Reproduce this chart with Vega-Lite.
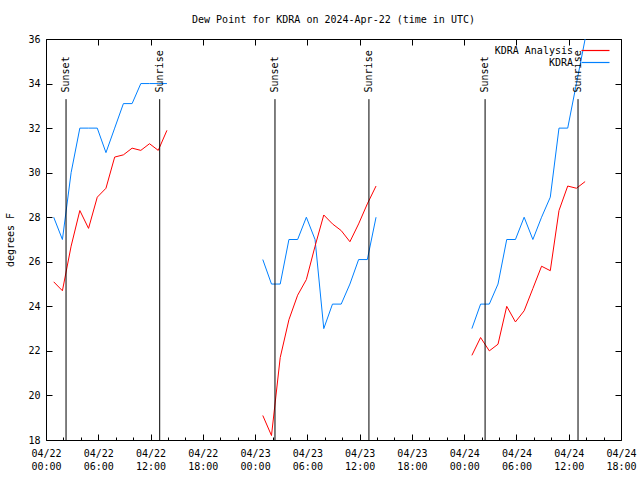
{
  "$schema": "https://vega.github.io/schema/vega-lite/v6.json",
  "width": 575,
  "height": 401,
  "autosize": {"type": "none"},
  "padding": {"left": 46, "top": 39, "right": 19, "bottom": 40},
  "background": "white",
  "config": {
    "font": "DejaVu Sans Mono",
    "view": {"stroke": "black", "strokeWidth": 1},
    "axis": {
      "domain": false,
      "grid": false,
      "tickColor": "black",
      "tickWidth": 1,
      "labelFont": "DejaVu Sans Mono",
      "labelFontSize": 10,
      "labelColor": "black",
      "titleFont": "DejaVu Sans Mono",
      "titleFontSize": 10,
      "titleFontWeight": "normal",
      "titleColor": "black"
    }
  },
  "title": {
    "text": "Dew Point for KDRA on 2024-Apr-22 (time in UTC)",
    "font": "DejaVu Sans Mono",
    "fontSize": 10,
    "fontWeight": "normal",
    "color": "black",
    "anchor": "middle",
    "offset": 9
  },
  "datasets": {
    "obs": [
      {"time": "2024-04-22T00:53:00Z", "dewpoint": 28.0, "series": "KDRA", "day": 1},
      {"time": "2024-04-22T01:53:00Z", "dewpoint": 27.0, "series": "KDRA", "day": 1},
      {"time": "2024-04-22T02:53:00Z", "dewpoint": 30.0, "series": "KDRA", "day": 1},
      {"time": "2024-04-22T03:53:00Z", "dewpoint": 32.0, "series": "KDRA", "day": 1},
      {"time": "2024-04-22T04:53:00Z", "dewpoint": 32.0, "series": "KDRA", "day": 1},
      {"time": "2024-04-22T05:53:00Z", "dewpoint": 32.0, "series": "KDRA", "day": 1},
      {"time": "2024-04-22T06:53:00Z", "dewpoint": 30.9, "series": "KDRA", "day": 1},
      {"time": "2024-04-22T07:53:00Z", "dewpoint": 32.0, "series": "KDRA", "day": 1},
      {"time": "2024-04-22T08:53:00Z", "dewpoint": 33.1, "series": "KDRA", "day": 1},
      {"time": "2024-04-22T09:53:00Z", "dewpoint": 33.1, "series": "KDRA", "day": 1},
      {"time": "2024-04-22T10:53:00Z", "dewpoint": 34.0, "series": "KDRA", "day": 1},
      {"time": "2024-04-22T11:53:00Z", "dewpoint": 34.0, "series": "KDRA", "day": 1},
      {"time": "2024-04-22T12:53:00Z", "dewpoint": 34.0, "series": "KDRA", "day": 1},
      {"time": "2024-04-22T13:53:00Z", "dewpoint": 34.0, "series": "KDRA", "day": 1},
      {"time": "2024-04-22T00:53:00Z", "dewpoint": 25.1, "series": "KDRA Analysis", "day": 1},
      {"time": "2024-04-22T01:53:00Z", "dewpoint": 24.7, "series": "KDRA Analysis", "day": 1},
      {"time": "2024-04-22T02:53:00Z", "dewpoint": 26.7, "series": "KDRA Analysis", "day": 1},
      {"time": "2024-04-22T03:53:00Z", "dewpoint": 28.3, "series": "KDRA Analysis", "day": 1},
      {"time": "2024-04-22T04:53:00Z", "dewpoint": 27.5, "series": "KDRA Analysis", "day": 1},
      {"time": "2024-04-22T05:53:00Z", "dewpoint": 28.9, "series": "KDRA Analysis", "day": 1},
      {"time": "2024-04-22T06:53:00Z", "dewpoint": 29.3, "series": "KDRA Analysis", "day": 1},
      {"time": "2024-04-22T07:53:00Z", "dewpoint": 30.7, "series": "KDRA Analysis", "day": 1},
      {"time": "2024-04-22T08:53:00Z", "dewpoint": 30.8, "series": "KDRA Analysis", "day": 1},
      {"time": "2024-04-22T09:53:00Z", "dewpoint": 31.1, "series": "KDRA Analysis", "day": 1},
      {"time": "2024-04-22T10:53:00Z", "dewpoint": 31.0, "series": "KDRA Analysis", "day": 1},
      {"time": "2024-04-22T11:53:00Z", "dewpoint": 31.3, "series": "KDRA Analysis", "day": 1},
      {"time": "2024-04-22T12:53:00Z", "dewpoint": 31.0, "series": "KDRA Analysis", "day": 1},
      {"time": "2024-04-22T13:53:00Z", "dewpoint": 31.9, "series": "KDRA Analysis", "day": 1},
      {"time": "2024-04-23T00:53:00Z", "dewpoint": 26.1, "series": "KDRA", "day": 2},
      {"time": "2024-04-23T01:53:00Z", "dewpoint": 25.0, "series": "KDRA", "day": 2},
      {"time": "2024-04-23T02:53:00Z", "dewpoint": 25.0, "series": "KDRA", "day": 2},
      {"time": "2024-04-23T03:53:00Z", "dewpoint": 27.0, "series": "KDRA", "day": 2},
      {"time": "2024-04-23T04:53:00Z", "dewpoint": 27.0, "series": "KDRA", "day": 2},
      {"time": "2024-04-23T05:53:00Z", "dewpoint": 28.0, "series": "KDRA", "day": 2},
      {"time": "2024-04-23T06:53:00Z", "dewpoint": 27.0, "series": "KDRA", "day": 2},
      {"time": "2024-04-23T07:53:00Z", "dewpoint": 23.0, "series": "KDRA", "day": 2},
      {"time": "2024-04-23T08:53:00Z", "dewpoint": 24.1, "series": "KDRA", "day": 2},
      {"time": "2024-04-23T09:53:00Z", "dewpoint": 24.1, "series": "KDRA", "day": 2},
      {"time": "2024-04-23T10:53:00Z", "dewpoint": 25.0, "series": "KDRA", "day": 2},
      {"time": "2024-04-23T11:53:00Z", "dewpoint": 26.1, "series": "KDRA", "day": 2},
      {"time": "2024-04-23T12:53:00Z", "dewpoint": 26.1, "series": "KDRA", "day": 2},
      {"time": "2024-04-23T13:53:00Z", "dewpoint": 28.0, "series": "KDRA", "day": 2},
      {"time": "2024-04-23T00:53:00Z", "dewpoint": 19.1, "series": "KDRA Analysis", "day": 2},
      {"time": "2024-04-23T01:53:00Z", "dewpoint": 18.2, "series": "KDRA Analysis", "day": 2},
      {"time": "2024-04-23T02:53:00Z", "dewpoint": 21.7, "series": "KDRA Analysis", "day": 2},
      {"time": "2024-04-23T03:53:00Z", "dewpoint": 23.4, "series": "KDRA Analysis", "day": 2},
      {"time": "2024-04-23T04:53:00Z", "dewpoint": 24.5, "series": "KDRA Analysis", "day": 2},
      {"time": "2024-04-23T05:53:00Z", "dewpoint": 25.2, "series": "KDRA Analysis", "day": 2},
      {"time": "2024-04-23T06:53:00Z", "dewpoint": 26.7, "series": "KDRA Analysis", "day": 2},
      {"time": "2024-04-23T07:53:00Z", "dewpoint": 28.1, "series": "KDRA Analysis", "day": 2},
      {"time": "2024-04-23T08:53:00Z", "dewpoint": 27.7, "series": "KDRA Analysis", "day": 2},
      {"time": "2024-04-23T09:53:00Z", "dewpoint": 27.4, "series": "KDRA Analysis", "day": 2},
      {"time": "2024-04-23T10:53:00Z", "dewpoint": 26.9, "series": "KDRA Analysis", "day": 2},
      {"time": "2024-04-23T11:53:00Z", "dewpoint": 27.7, "series": "KDRA Analysis", "day": 2},
      {"time": "2024-04-23T12:53:00Z", "dewpoint": 28.6, "series": "KDRA Analysis", "day": 2},
      {"time": "2024-04-23T13:53:00Z", "dewpoint": 29.4, "series": "KDRA Analysis", "day": 2},
      {"time": "2024-04-24T00:53:00Z", "dewpoint": 23.0, "series": "KDRA", "day": 3},
      {"time": "2024-04-24T01:53:00Z", "dewpoint": 24.1, "series": "KDRA", "day": 3},
      {"time": "2024-04-24T02:53:00Z", "dewpoint": 24.1, "series": "KDRA", "day": 3},
      {"time": "2024-04-24T03:53:00Z", "dewpoint": 25.0, "series": "KDRA", "day": 3},
      {"time": "2024-04-24T04:53:00Z", "dewpoint": 27.0, "series": "KDRA", "day": 3},
      {"time": "2024-04-24T05:53:00Z", "dewpoint": 27.0, "series": "KDRA", "day": 3},
      {"time": "2024-04-24T06:53:00Z", "dewpoint": 28.0, "series": "KDRA", "day": 3},
      {"time": "2024-04-24T07:53:00Z", "dewpoint": 27.0, "series": "KDRA", "day": 3},
      {"time": "2024-04-24T08:53:00Z", "dewpoint": 28.0, "series": "KDRA", "day": 3},
      {"time": "2024-04-24T09:53:00Z", "dewpoint": 28.9, "series": "KDRA", "day": 3},
      {"time": "2024-04-24T10:53:00Z", "dewpoint": 32.0, "series": "KDRA", "day": 3},
      {"time": "2024-04-24T11:53:00Z", "dewpoint": 32.0, "series": "KDRA", "day": 3},
      {"time": "2024-04-24T12:53:00Z", "dewpoint": 34.0, "series": "KDRA", "day": 3},
      {"time": "2024-04-24T13:53:00Z", "dewpoint": 36.0, "series": "KDRA", "day": 3},
      {"time": "2024-04-24T00:53:00Z", "dewpoint": 21.8, "series": "KDRA Analysis", "day": 3},
      {"time": "2024-04-24T01:53:00Z", "dewpoint": 22.6, "series": "KDRA Analysis", "day": 3},
      {"time": "2024-04-24T02:53:00Z", "dewpoint": 22.0, "series": "KDRA Analysis", "day": 3},
      {"time": "2024-04-24T03:53:00Z", "dewpoint": 22.3, "series": "KDRA Analysis", "day": 3},
      {"time": "2024-04-24T04:53:00Z", "dewpoint": 24.0, "series": "KDRA Analysis", "day": 3},
      {"time": "2024-04-24T05:53:00Z", "dewpoint": 23.3, "series": "KDRA Analysis", "day": 3},
      {"time": "2024-04-24T06:53:00Z", "dewpoint": 23.8, "series": "KDRA Analysis", "day": 3},
      {"time": "2024-04-24T07:53:00Z", "dewpoint": 24.8, "series": "KDRA Analysis", "day": 3},
      {"time": "2024-04-24T08:53:00Z", "dewpoint": 25.8, "series": "KDRA Analysis", "day": 3},
      {"time": "2024-04-24T09:53:00Z", "dewpoint": 25.6, "series": "KDRA Analysis", "day": 3},
      {"time": "2024-04-24T10:53:00Z", "dewpoint": 28.3, "series": "KDRA Analysis", "day": 3},
      {"time": "2024-04-24T11:53:00Z", "dewpoint": 29.4, "series": "KDRA Analysis", "day": 3},
      {"time": "2024-04-24T12:53:00Z", "dewpoint": 29.3, "series": "KDRA Analysis", "day": 3},
      {"time": "2024-04-24T13:53:00Z", "dewpoint": 29.6, "series": "KDRA Analysis", "day": 3}
    ],
    "sun": [
      {"time": "2024-04-22T02:18:00Z", "event": "Sunset"},
      {"time": "2024-04-22T13:03:00Z", "event": "Sunrise"},
      {"time": "2024-04-23T02:17:00Z", "event": "Sunset"},
      {"time": "2024-04-23T13:04:00Z", "event": "Sunrise"},
      {"time": "2024-04-24T02:24:00Z", "event": "Sunset"},
      {"time": "2024-04-24T13:04:00Z", "event": "Sunrise"}
    ]
  },
  "resolve": {"axis": {"x": "independent", "y": "independent"}},
  "layer": [
    {
      "data": {"name": "obs"},
      "mark": {"type": "line", "strokeWidth": 1, "clip": true},
      "encoding": {
        "x": {
          "field": "time",
          "type": "temporal",
          "scale": {"type": "utc", "domain": [1713744000000, 1713981600000], "nice": false},
          "axis": {
            "orient": "bottom",
            "title": null,
            "values": [1713744000000, 1713765600000, 1713787200000, 1713808800000, 1713830400000, 1713852000000, 1713873600000, 1713895200000, 1713916800000, 1713938400000, 1713960000000, 1713981600000],
            "tickSize": -6,
            "labelExpr": "[utcFormat(datum.value, '%m/%d'), utcFormat(datum.value, '%H:%M')]",
            "labelOverlap": false,
            "labelFlush": false,
            "labelBaseline": "top",
            "labelLineHeight": 13,
            "labelPadding": 14
          }
        },
        "y": {
          "field": "dewpoint",
          "type": "quantitative",
          "scale": {"domain": [18, 36], "nice": false, "zero": false},
          "axis": {
            "orient": "left",
            "title": "degrees F",
            "values": [18, 20, 22, 24, 26, 28, 30, 32, 34, 36],
            "tickSize": -6,
            "labelPadding": 12,
            "titlePadding": 12
          }
        },
        "color": {
          "field": "series",
          "type": "nominal",
          "scale": {"domain": ["KDRA Analysis", "KDRA"], "range": ["#ff0000", "#0080ff"]},
          "legend": {
            "title": null,
            "orient": "none",
            "legendX": 544,
            "legendY": 6,
            "symbolType": "M-3,0H3",
            "symbolSize": 87,
            "symbolStrokeWidth": 1.2,
            "labelAlign": "right",
            "labelOffset": -28,
            "labelFont": "DejaVu Sans Mono",
            "labelFontSize": 10,
            "labelColor": "black",
            "rowPadding": 1,
            "padding": 0
          }
        },
        "detail": {"field": "day", "type": "nominal"}
      }
    },
    {
      "data": {"name": "sun"},
      "mark": {"type": "rule", "color": "black", "strokeWidth": 1},
      "encoding": {
        "x": {
          "field": "time",
          "type": "temporal",
          "scale": {"type": "utc", "domain": [1713744000000, 1713981600000], "nice": false},
          "axis": {
            "orient": "top",
            "title": null,
            "labels": false,
            "values": [1713744000000, 1713765600000, 1713787200000, 1713808800000, 1713830400000, 1713852000000, 1713873600000, 1713895200000, 1713916800000, 1713938400000, 1713960000000, 1713981600000],
            "tickSize": -6
          }
        },
        "y": {
          "datum": 18,
          "type": "quantitative",
          "scale": {"domain": [18, 36], "nice": false, "zero": false},
          "axis": {
            "orient": "right",
            "title": null,
            "labels": false,
            "values": [18, 20, 22, 24, 26, 28, 30, 32, 34, 36],
            "tickSize": -6
          }
        },
        "y2": {"datum": 33.3}
      }
    },
    {
      "data": {"name": "sun"},
      "mark": {"type": "text", "angle": 270, "align": "left", "baseline": "middle", "font": "DejaVu Sans Mono", "fontSize": 10, "color": "black"},
      "encoding": {
        "x": {
          "field": "time",
          "type": "temporal",
          "axis": {
            "orient": "bottom",
            "title": null,
            "labels": false,
            "values": [1713751200000, 1713758400000, 1713772800000, 1713780000000, 1713794400000, 1713801600000, 1713816000000, 1713823200000, 1713837600000, 1713844800000, 1713859200000, 1713866400000, 1713880800000, 1713888000000, 1713902400000, 1713909600000, 1713924000000, 1713931200000, 1713945600000, 1713952800000, 1713967200000, 1713974400000],
            "tickSize": -3
          }
        },
        "y": {"datum": 33.6, "type": "quantitative", "axis": null},
        "text": {"field": "event"}
      }
    }
  ]
}
